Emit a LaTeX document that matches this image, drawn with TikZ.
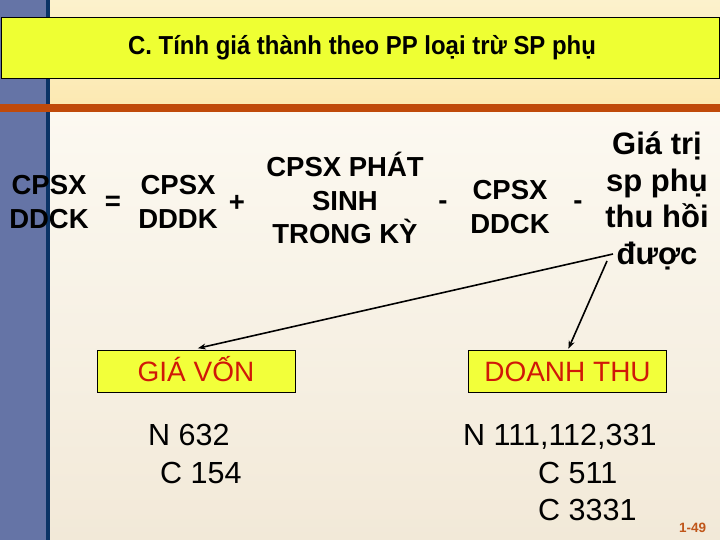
\documentclass[tikz,border=0pt]{standalone}
\usepackage{fontspec}
\setmainfont{Liberation Sans}
\usetikzlibrary{arrows.meta}
\definecolor{bluebar}{HTML}{6574A6}
\definecolor{navy}{HTML}{0B3366}
\definecolor{orangeline}{HTML}{C04A0A}
\definecolor{titlefill}{HTML}{EEFF33}
\definecolor{boxfill}{HTML}{F2FF3A}
\definecolor{boxtext}{HTML}{D01808}
\definecolor{pagenum}{HTML}{C0561A}
\tikzset{
  formula/.style={font=\bfseries\fontsize{27.5}{33.5}\selectfont, align=center, inner sep=0pt},
  op/.style={font=\bfseries\fontsize{27.5}{33.5}\selectfont, inner sep=0pt},
  bigtxt/.style={font=\bfseries\fontsize{31}{36.7}\selectfont, align=center, inner sep=0pt},
  yellowbox/.style={draw=black, line width=0.8pt, fill=boxfill, minimum width=198pt, minimum height=42pt, inner sep=0pt,
    text=boxtext, font=\fontsize{28}{32}\selectfont, text height=20pt, text depth=0pt},
  acct/.style={font=\fontsize{30.5}{36}\selectfont, inner sep=0pt, anchor=base west},
  link/.style={line width=1.6pt, -{Stealth[length=8pt,width=6pt]}}
}
\begin{document}
\begin{tikzpicture}[x=1pt,y=-1pt]
\useasboundingbox (0,0) rectangle (720,540);
% background
\shade[top color={rgb,255:red,252;green,241;blue,204}, bottom color={rgb,255:red,252;green,233;blue,178}] (0,0) rectangle (720,104);
\shade[top color={rgb,255:red,252;green,249;blue,241}, bottom color={rgb,255:red,242;green,233;blue,216}] (0,112) rectangle (720,540);
\fill[bluebar] (0,0) rectangle (46,540);
\fill[navy] (46,0) rectangle (50,540);
\fill[orangeline] (0,104) rectangle (720,112);
% title
\node[draw=black, line width=0.9pt, fill=titlefill, minimum width=718pt, minimum height=61pt, inner sep=0pt] (title) at (360,47.5) {};
\node[font=\bfseries\fontsize{26}{30}\selectfont, inner sep=0pt, xscale=0.92] (titletext) at (362,48) {C. Tính giá thành theo PP loại trừ SP phụ};
% formula
\node[formula] (ddck) at (49,202) {CPSX\\DDCK};
\node[op] (eq) at (113,203) {=};
\node[formula] (dddk) at (178,202) {CPSX\\DDDK};
\node[op] (plus) at (237,203) {+};
\node[formula] (phatsinh) at (345,198) {CPSX PHÁT\\SINH\\TRONG KỲ};
\node[op] (minus1) at (443,205) {-};
\node[formula] (ddck2) at (510,207) {CPSX\\DDCK};
\node[op] (minus2) at (578,205) {-};
\node[bigtxt] (giatri) at (657,201) {Giá trị\\sp phụ\\thu hồi\\được};
% boxes
\node[yellowbox] (giavon) at (196,371) {GIÁ VỐN};
\node[yellowbox] (doanhthu) at (567.5,371) {DOANH THU};
% connectors
\coordinate (src1) at (613,254);
\coordinate (src2) at (607,261);
\draw[link, shorten >=6pt] (src1) -- (giavon.north -| 192,0);
\draw[link, shorten >=1pt] (src2) -- (doanhthu.north -| 568,0);
% accounts
\node[acct] (n632) at (148,445) {N 632};
\node[acct] (c154) at (160,483) {C 154};
\node[acct] (n111) at (463,445) {N 111,112,331};
\node[acct] (c511) at (538,483) {C 511};
\node[acct] (c3331) at (538,520) {C 3331};
\node[font=\bfseries\fontsize{13.5}{16}\selectfont, text=pagenum, inner sep=0pt, anchor=base west] (page) at (679,532) {1-49};
\end{tikzpicture}
\end{document}
